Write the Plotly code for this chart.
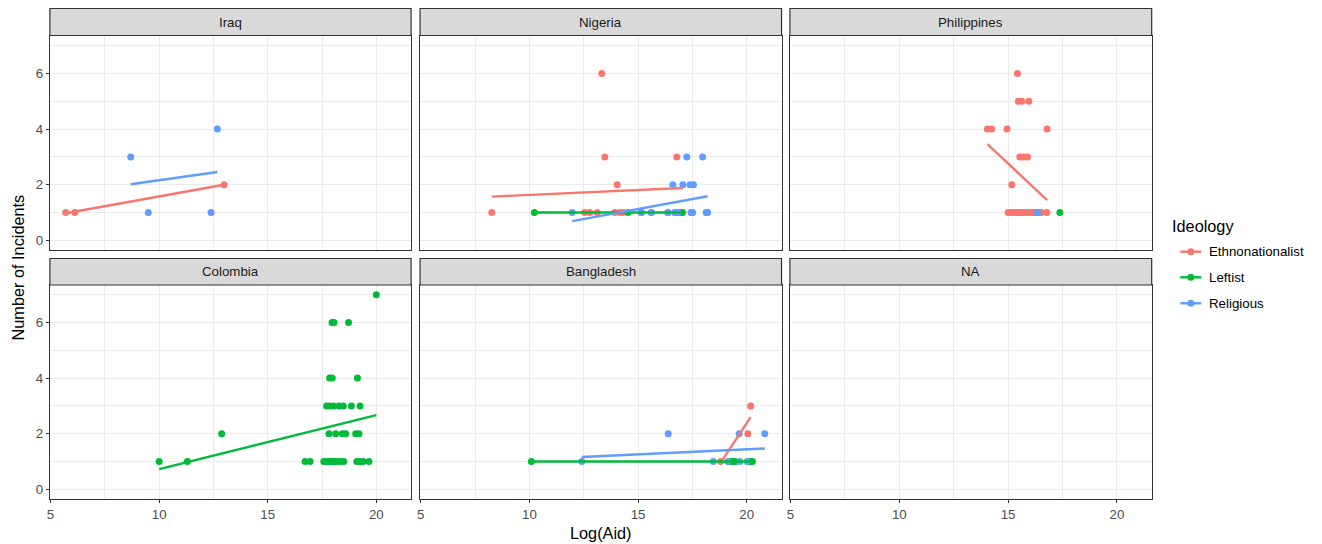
import numpy as np
import plotly.graph_objects as go

# ---------------- data ----------------
countries = ["Iraq", "Nigeria", "Philippines", "Colombia", "Bangladesh", "NA"]
ideologies = ["Ethnonationalist", "Leftist", "Religious"]
colors = {"Ethnonationalist": "#F8766D", "Leftist": "#00BA38", "Religious": "#619CFF"}

iraq_eth_x = [5.70, 6.12, 12.99]
iraq_eth_y = [1, 1, 2]
iraq_rel_x = [8.69, 9.50, 12.39, 12.68]
iraq_rel_y = [3, 1, 1, 4]

nigeria_eth_x = [8.27, 12.55, 12.78, 13.12, 13.33, 13.47, 13.93, 14.04, 14.16, 14.31, 16.78, 16.85, 17.06]
nigeria_eth_y = [1, 1, 1, 1, 6, 3, 1, 2, 1, 1, 3, 1, 1]
nigeria_left_x = [10.23, 14.54, 17.02]
nigeria_left_y = [1, 1, 1]
nigeria_rel_x = [11.97, 15.15, 15.61, 16.37, 16.68, 16.83, 17.44, 17.50, 18.13, 18.20,
                 15.15, 15.61, 16.37, 16.83, 17.44, 17.50,
                 16.60, 17.06, 17.39, 17.55, 17.24, 17.97]
nigeria_rel_y = [1, 1, 1, 1, 1, 1, 1, 1, 1, 1,
                 1, 1, 1, 1, 1, 1,
                 2, 2, 2, 2, 3, 3]

phil_eth_x = [14.05, 14.24, 14.95, 16.79, 15.43, 15.47, 15.63, 15.95, 15.54, 15.69, 15.89, 15.17,
              15.00, 15.12, 15.25, 15.38, 15.50, 15.50, 15.62, 15.75, 15.88, 16.00, 16.15, 16.20,
              16.30, 16.45, 16.52, 16.78]
phil_eth_y = [4, 4, 4, 4, 6, 5, 5, 5, 3, 3, 3, 2,
              1, 1, 1, 1, 1, 1, 1, 1, 1, 1, 1, 1,
              1, 1, 1, 1]
phil_left_x = [17.38]
phil_left_y = [1]
phil_rel_x = [16.35]
phil_rel_y = [1]

col_left_x = [20.00,
              17.96, 18.05, 18.72,
              17.85, 17.97, 19.13,
              17.71, 17.85, 18.02, 18.28, 18.48, 18.85, 19.25,
              12.88, 17.82, 18.13, 18.44, 18.59, 19.05, 19.20,
              10.00, 11.30, 16.72, 16.95, 17.58, 17.72, 17.88, 18.03, 18.18, 18.33, 18.50,
              19.10, 19.25, 19.66,
              17.90, 17.95, 18.00, 18.05, 18.10, 19.40]
col_left_y = [7,
              6, 6, 6,
              4, 4, 4,
              3, 3, 3, 3, 3, 3, 3,
              2, 2, 2, 2, 2, 2, 2,
              1, 1, 1, 1, 1, 1, 1, 1, 1, 1, 1,
              1, 1, 1,
              1, 1, 1, 1, 1, 1]

bang_eth_x = [18.80, 20.05, 20.18]
bang_eth_y = [1, 2, 3]
bang_left_x = [10.09, 19.25, 19.37, 19.47, 20.09, 20.20, 20.26]
bang_left_y = [1, 1, 1, 1, 1, 1, 1]
bang_rel_x = [12.41, 16.39, 18.46, 19.13, 19.68, 20.02, 19.65, 20.83]
bang_rel_y = [1, 2, 1, 1, 1, 1, 2, 2]

panel_data = {
    "Iraq": {"Ethnonationalist": (iraq_eth_x, iraq_eth_y), "Religious": (iraq_rel_x, iraq_rel_y)},
    "Nigeria": {"Ethnonationalist": (nigeria_eth_x, nigeria_eth_y),
                "Leftist": (nigeria_left_x, nigeria_left_y),
                "Religious": (nigeria_rel_x, nigeria_rel_y)},
    "Philippines": {"Ethnonationalist": (phil_eth_x, phil_eth_y),
                    "Leftist": (phil_left_x, phil_left_y),
                    "Religious": (phil_rel_x, phil_rel_y)},
    "Colombia": {"Leftist": (col_left_x, col_left_y)},
    "Bangladesh": {"Ethnonationalist": (bang_eth_x, bang_eth_y),
                   "Leftist": (bang_left_x, bang_left_y),
                   "Religious": (bang_rel_x, bang_rel_y)},
    "NA": {},
}

x_ticks = [5, 10, 15, 20]
y_ticks = [0, 2, 4, 6]

# ---------------- layout geometry (reference pixels) ----------------
OFFX, OFFY = 10, 8          # page body margin of the browser
W, H = 1322 - 8, 544 - 8
col_px = [(49, 411), (420, 782.3), (790.7, 1153.3)]
row_px = [(36, 250), (285, 499)]
strip_px = [(8.5, 35.5), (258.5, 285)]


def px(x):
    return (x - OFFX) / W


def py(y):
    return 1 - (y - OFFY) / H


FONT = "Liberation Sans, Arial, Helvetica, sans-serif"
GRID = "#EBEBEB"
DARK = "#333333"
SMALL = 13.3
BIG = 16.3

fig = go.Figure()
layout = dict(width=W, height=H, autosize=False,
              margin=dict(l=0, r=0, t=0, b=0, pad=0),
              paper_bgcolor="white", plot_bgcolor="white",
              showlegend=False, font=dict(family=FONT))
shapes = []
annotations = []

for i, country in enumerate(countries):
    n = i + 1
    r, c = divmod(i, 3)
    xs = "" if n == 1 else str(n)
    x0, x1 = col_px[c]
    t, b = row_px[r]
    layout["xaxis" + xs] = dict(
        domain=[px(x0), px(x1)], anchor="y" + xs, range=[4.97, 21.6],
        tickmode="array", tickvals=x_ticks, ticktext=[str(v) for v in x_ticks],
        showgrid=True, gridcolor=GRID, gridwidth=1.3,
        minor=dict(tickmode="array", tickvals=[7.5, 12.5, 17.5], showgrid=True,
                   gridcolor=GRID, gridwidth=0.7, ticks=""),
        showline=True, linecolor=DARK, linewidth=1.2, mirror=True,
        ticks="outside" if r == 1 else "", ticklen=3, tickcolor=DARK, tickwidth=1,
        showticklabels=(r == 1),
        tickfont=dict(family=FONT, size=SMALL, color="#4D4D4D"),
        zeroline=False, fixedrange=True,
    )
    layout["yaxis" + xs] = dict(
        domain=[py(b), py(t)], anchor="x" + xs, range=[-0.35, 7.35],
        tickmode="array", tickvals=y_ticks, ticktext=[str(v) for v in y_ticks],
        showgrid=True, gridcolor=GRID, gridwidth=1.3,
        minor=dict(tickmode="array", tickvals=[1, 3, 5, 7], showgrid=True,
                   gridcolor=GRID, gridwidth=0.7, ticks=""),
        showline=True, linecolor=DARK, linewidth=1.2, mirror=True,
        ticks="outside" if c == 0 else "", ticklen=3, tickcolor=DARK, tickwidth=1,
        showticklabels=(c == 0),
        tickfont=dict(family=FONT, size=SMALL, color="#4D4D4D"),
        zeroline=False, fixedrange=True,
    )
    # strip
    st, sb = strip_px[r]
    shapes.append(dict(type="rect", xref="paper", yref="paper",
                       x0=px(x0), x1=px(x1), y0=py(sb), y1=py(st),
                       fillcolor="#D9D9D9", line=dict(color=DARK, width=1.2), layer="above"))
    annotations.append(dict(text=country, xref="paper", yref="paper",
                            x=px((x0 + x1) / 2), y=py((st + sb) / 2),
                            showarrow=False, xanchor="center", yanchor="middle",
                            font=dict(family=FONT, size=SMALL, color="#1A1A1A")))

    # empty trace to ensure subplot exists
    fig.add_trace(go.Scatter(x=[], y=[], xaxis="x" + xs, yaxis="y" + xs,
                             mode="markers", showlegend=False, hoverinfo="skip"))
    # points
    for ideo in ideologies:
        if ideo not in panel_data[country]:
            continue
        xv, yv = panel_data[country][ideo]
        fig.add_trace(go.Scatter(x=xv, y=yv, xaxis="x" + xs, yaxis="y" + xs,
                                 mode="markers", name=ideo,
                                 marker=dict(color=colors[ideo], size=7, line=dict(width=0)),
                                 showlegend=False, cliponaxis=False))
    # linear fits (lm)
    for ideo in ideologies:
        if ideo not in panel_data[country]:
            continue
        xv, yv = panel_data[country][ideo]
        xa = np.array(xv, float)
        ya = np.array(yv, float)
        if len(xa) < 2:
            continue
        if np.ptp(ya) == 0:
            slope, inter = 0.0, ya[0]
        else:
            slope, inter = np.polyfit(xa, ya, 1)
        xl = np.array([xa.min(), xa.max()])
        fig.add_trace(go.Scatter(x=xl, y=slope * xl + inter, xaxis="x" + xs, yaxis="y" + xs,
                                 mode="lines", line=dict(color=colors[ideo], width=2.4),
                                 showlegend=False, hoverinfo="skip"))

# axis titles
annotations.append(dict(text="Log(Aid)", xref="paper", yref="paper",
                        x=px((49 + 1153.3) / 2), y=py(533), showarrow=False,
                        xanchor="center", yanchor="middle",
                        font=dict(family=FONT, size=BIG, color="black")))
annotations.append(dict(text="Number of Incidents", xref="paper", yref="paper",
                        x=px(18), y=py(267.5), showarrow=False, textangle=-90,
                        xanchor="center", yanchor="middle",
                        font=dict(family=FONT, size=BIG, color="black")))

# legend (manual)
annotations.append(dict(text="Ideology", xref="paper", yref="paper",
                        x=px(1172), y=py(226), showarrow=False,
                        xanchor="left", yanchor="middle",
                        font=dict(family=FONT, size=BIG, color="black")))
leg_y = [251.7, 277.3, 303.3]
for ideo, ly in zip(ideologies, leg_y):
    yp = py(ly)
    shapes.append(dict(type="line", xref="paper", yref="paper",
                       x0=px(1182), x1=px(1203), y0=yp, y1=yp,
                       line=dict(color=colors[ideo], width=2.4)))
    shapes.append(dict(type="circle", xref="paper", yref="paper",
                       xsizemode="pixel", ysizemode="pixel",
                       xanchor=px(1192.5), yanchor=yp,
                       x0=-3.5, x1=3.5, y0=-3.5, y1=3.5,
                       fillcolor=colors[ideo], line=dict(width=0)))
    annotations.append(dict(text=ideo, xref="paper", yref="paper",
                            x=px(1209), y=yp, showarrow=False,
                            xanchor="left", yanchor="middle",
                            font=dict(family=FONT, size=SMALL, color="black")))

layout["shapes"] = shapes
layout["annotations"] = annotations
fig.update_layout(**layout)
fig.write_html("out.html")
